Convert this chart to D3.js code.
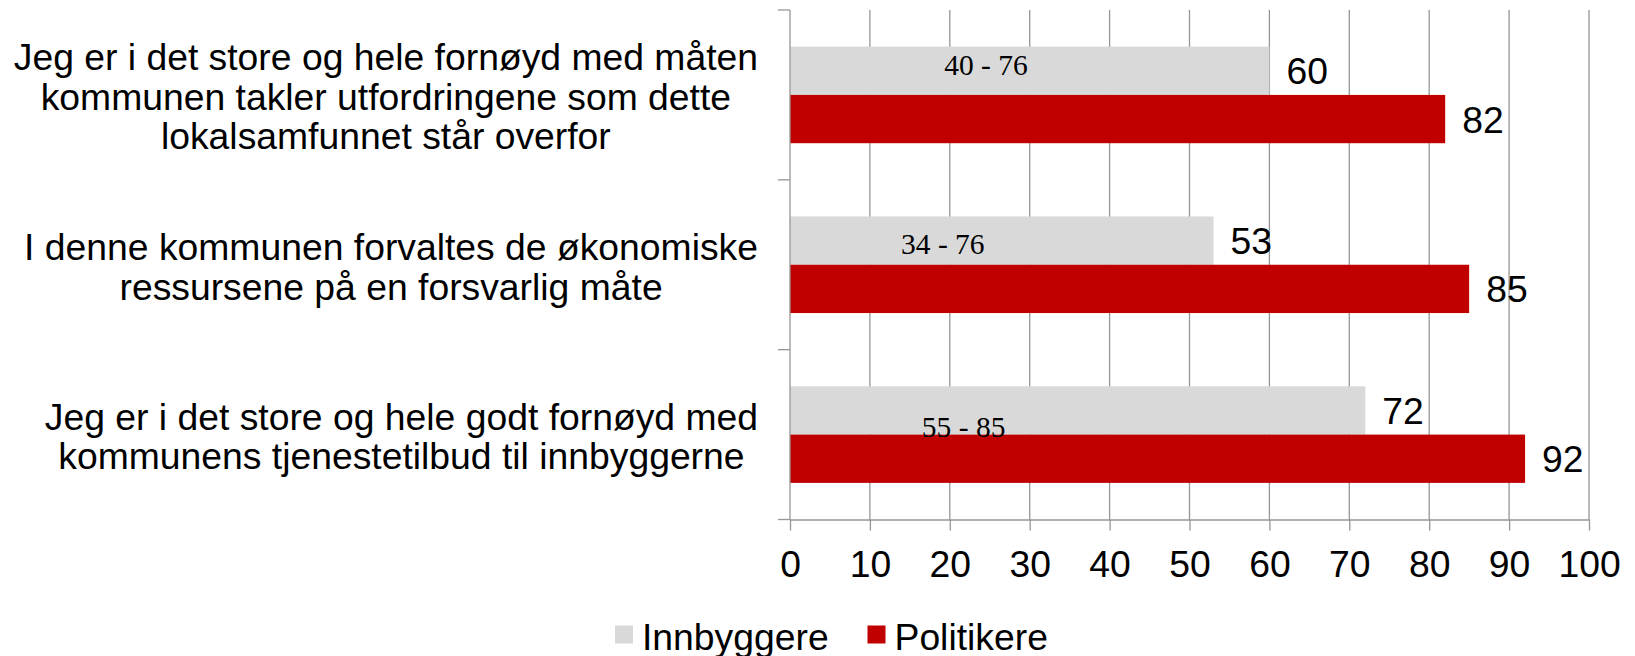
<!DOCTYPE html>
<html>
<head>
<meta charset="utf-8">
<script src="https://cdn.jsdelivr.net/npm/d3@7"></script>
<style>
  html, body { margin: 0; padding: 0; background: #fff; }
  svg { display: block; }
  text { font-family: "Liberation Sans", Arial, sans-serif; }
</style>
</head>
<body>
<svg id="chart" width="1635" height="656"></svg>
<script>
// ---- data ----
const categories = [
  "Jeg er i det store og hele fornøyd med måten|kommunen takler utfordringene som dette|lokalsamfunnet står overfor",
  "I denne kommunen forvaltes de økonomiske|ressursene på en forsvarlig måte",
  "Jeg er i det store og hele godt fornøyd med|kommunens tjenestetilbud til innbyggerne"
];
const seriesNames = ["Innbyggere", "Politikere"];
const innbyggere = [60, 53, 72];
const politikere = [82, 85, 92];
const rangeLabels = ["40 - 76", "34 - 76", "55 - 85"];
const xTicks = [0, 10, 20, 30, 40, 50, 60, 70, 80, 90, 100];

// annotation placement (data-unit x, px offset from bar top)
const rangeLabelX = [19.3, 13.9, 16.5];
const rangeLabelDy = [28.5, 38, 50.7];

const colors = { "Innbyggere": "#d9d9d9", "Politikere": "#c00000" };
const gridColor = "#969696";
const fontSize = 37.3;

const svg = d3.select("#chart");
const x = d3.scaleLinear().domain([0, 100]).range([790, 1589]);
const y0 = d3.scaleBand().domain(categories).range([10, 519.5]).paddingInner(0).paddingOuter(0);
const y1 = d3.scaleBand().domain(seriesNames).range([0, y0.bandwidth()]).paddingInner(0).paddingOuter(0.758);

// gridlines
svg.append("g").selectAll("line").data(xTicks.filter(t => t > 0)).join("line")
  .attr("x1", d => x(d)).attr("x2", d => x(d))
  .attr("y1", 10).attr("y2", 519.5)
  .attr("stroke", gridColor).attr("stroke-width", 1.3);

// bars
const table = categories.map((c, i) => ({ cat: c, values: [
  { s: "Innbyggere", v: innbyggere[i] },
  { s: "Politikere", v: politikere[i] }
]}));

const groups = svg.append("g").selectAll("g").data(table).join("g")
  .attr("transform", d => `translate(0,${y0(d.cat)})`);

groups.selectAll("rect").data(d => d.values).join("rect")
  .attr("x", x(0))
  .attr("y", d => y1(d.s))
  .attr("width", d => x(d.v) - x(0))
  .attr("height", y1.bandwidth())
  .attr("fill", d => colors[d.s]);

// value labels
groups.selectAll("text.val").data(d => d.values).join("text")
  .attr("class", "val")
  .attr("x", d => x(d.v) + 17)
  .attr("y", d => y1(d.s) + y1.bandwidth() / 2 + 13.5)
  .attr("font-size", fontSize)
  .attr("fill", "#000")
  .text(d => d.v);

// range labels (Times)
groups.append("text")
  .attr("x", (d, i) => x(rangeLabelX[i]))
  .attr("y", (d, i) => y1("Innbyggere") + rangeLabelDy[i])
  .style("font-family", "'Liberation Serif', 'Times New Roman', serif")
  .attr("font-size", 29.5)
  .attr("fill", "#000")
  .text((d, i) => rangeLabels[i]);

// vertical axis (category)
const yAxisG = svg.append("g");
yAxisG.append("line")
  .attr("x1", x(0)).attr("x2", x(0)).attr("y1", 10).attr("y2", 519.5)
  .attr("stroke", gridColor).attr("stroke-width", 1.3);
const boundaries = categories.map(c => y0(c)).concat([y0.range()[1]]);
yAxisG.selectAll("line.tk").data(boundaries).join("line")
  .attr("class", "tk")
  .attr("x1", x(0) - 12).attr("x2", x(0)).attr("y1", d => d).attr("y2", d => d)
  .attr("stroke", gridColor).attr("stroke-width", 1.3);

// bottom axis
const xAxis = d3.axisBottom(x).tickValues(xTicks).tickSize(11).tickPadding(20).tickSizeOuter(0);
const xg = svg.append("g").attr("transform", "translate(0,519.5)").call(xAxis);
xg.select(".domain").attr("stroke", gridColor).attr("stroke-width", 1.3);
xg.selectAll(".tick line").attr("stroke", gridColor).attr("stroke-width", 1.3);
xg.selectAll(".tick text")
  .attr("font-size", fontSize)
  .attr("font-family", "'Liberation Sans', Arial, sans-serif")
  .attr("fill", "#000");

// category labels: centered lines, block right-aligned at 758
const lineH = 39.5;
categories.forEach(c => {
  const lines = c.split("|");
  const g = svg.append("g");
  const texts = lines.map((ln, i) => g.append("text")
    .attr("font-size", fontSize)
    .attr("text-anchor", "middle")
    .attr("fill", "#000")
    .attr("y", y0(c) + y0.bandwidth() / 2 + 15 + (i - (lines.length - 1) / 2) * lineH)
    .text(ln));
  const maxW = d3.max(texts, t => t.node().getComputedTextLength());
  const cx = 758 - maxW / 2;
  texts.forEach(t => t.attr("x", cx));
});

// legend
const legend = svg.append("g");
const legendX = [615, 867.5];
seriesNames.forEach((s, i) => {
  legend.append("rect")
    .attr("x", legendX[i]).attr("y", 625.5)
    .attr("width", 18).attr("height", 18)
    .attr("fill", colors[s]);
  legend.append("text")
    .attr("x", legendX[i] + 27).attr("y", 649.5)
    .attr("font-size", fontSize)
    .attr("fill", "#000")
    .text(s);
});
</script>
</body>
</html>
